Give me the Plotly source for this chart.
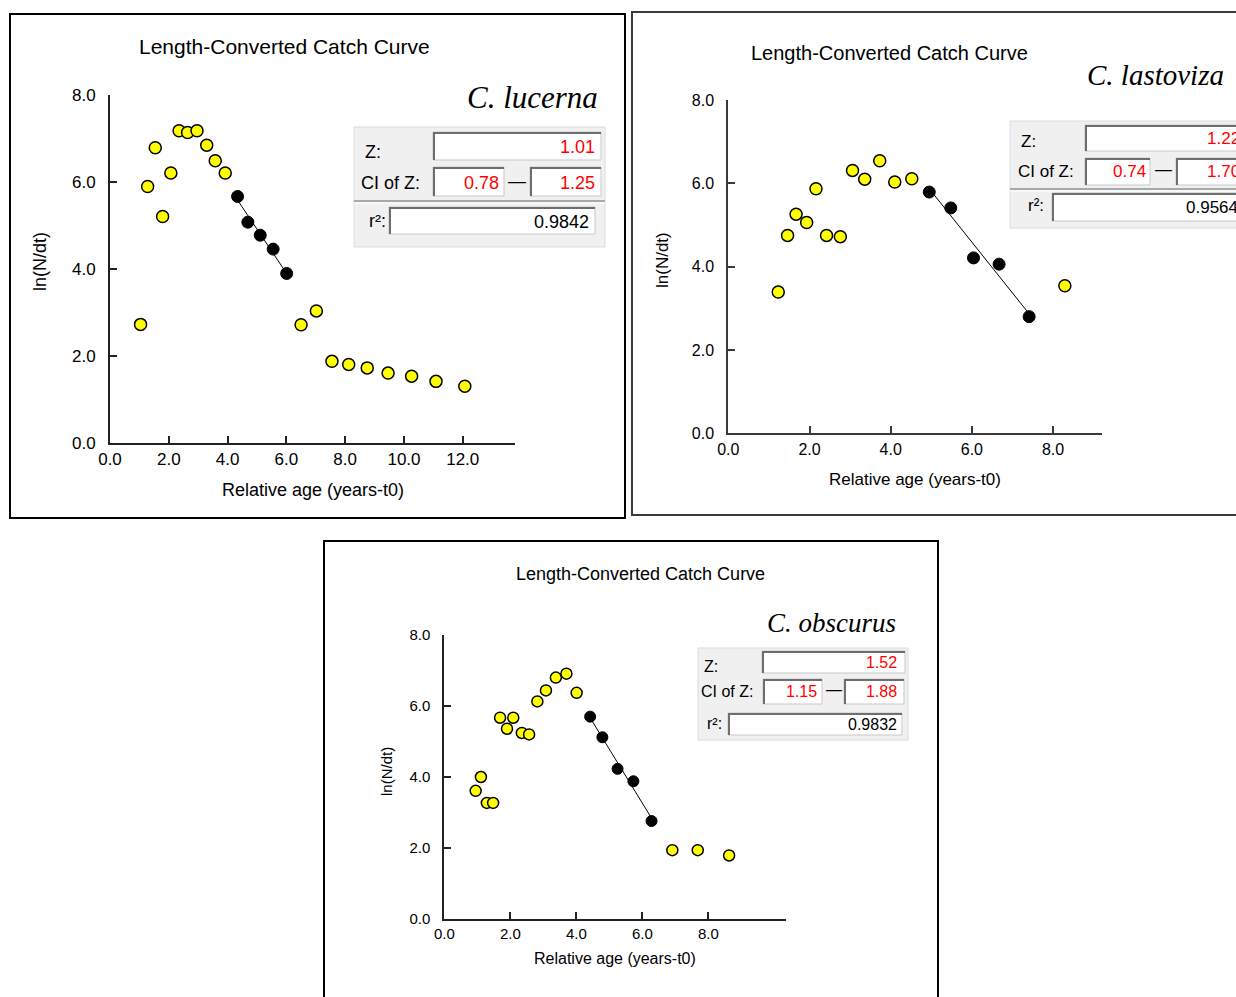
import numpy as np
import plotly.graph_objects as go

W, H = 1236, 997

# ---------------- data ----------------
# C. lucerna
lucerna_age = [1.04, 1.28, 1.54, 1.79, 2.07, 2.35, 2.64, 2.96, 3.29, 3.58, 3.92,
               4.34, 4.69, 5.11, 5.55, 6.01,
               6.50, 7.02, 7.55, 8.12, 8.75, 9.46, 10.26, 11.09, 12.07]
lucerna_lnN = [2.72, 5.89, 6.78, 5.20, 6.20, 7.17, 7.13, 7.17, 6.84, 6.48, 6.20,
               5.66, 5.07, 4.77, 4.45, 3.89,
               2.71, 3.03, 1.87, 1.80, 1.72, 1.60, 1.53, 1.41, 1.30]
lucerna_used = [0] * 11 + [1] * 5 + [0] * 9
lucerna_Z, lucerna_ci_lo, lucerna_ci_hi, lucerna_r2 = 1.01, 0.78, 1.25, 0.9842

# C. lastoviza
lastoviza_age = [1.23, 1.46, 1.67, 1.93, 2.16, 2.42, 2.76, 3.06, 3.36, 3.73, 4.10, 4.52,
                 4.95, 5.48, 6.04, 6.67, 7.41,
                 8.29]
lastoviza_lnN = [3.39, 4.75, 5.26, 5.06, 5.87, 4.75, 4.72, 6.31, 6.10, 6.54, 6.03, 6.11,
                 5.79, 5.41, 4.21, 4.06, 2.80,
                 3.54]
lastoviza_used = [0] * 12 + [1] * 5 + [0]
lastoviza_Z, lastoviza_ci_lo, lastoviza_ci_hi, lastoviza_r2 = 1.22, 0.74, 1.70, 0.9564

# C. obscurus
obscurus_age = [0.95, 1.11, 1.29, 1.48, 1.69, 1.90, 2.09, 2.35, 2.57, 2.82, 3.08, 3.38, 3.70, 4.01,
                4.42, 4.79, 5.25, 5.73, 6.28,
                6.91, 7.68, 8.63]
obscurus_lnN = [3.61, 4.00, 3.27, 3.27, 5.67, 5.36, 5.67, 5.24, 5.20, 6.13, 6.44, 6.80, 6.91, 6.37,
                5.70, 5.12, 4.23, 3.88, 2.76,
                1.94, 1.94, 1.79]
obscurus_used = [0] * 14 + [1] * 5 + [0] * 3
obscurus_Z, obscurus_ci_lo, obscurus_ci_hi, obscurus_r2 = 1.52, 1.15, 1.88, 0.9832

y_ticks = [0, 2, 4, 6, 8]

# ---------------- layout helpers (pixel -> paper) ----------------
def px(x):
    return x / W


def py(y):
    return 1 - y / H


fig = go.Figure()
shapes = []
annotations = []

SANS = "Liberation Sans, Arial, sans-serif"
SERIF = "Liberation Serif, Times New Roman, serif"


def text(x, y, s, size, color="#000000", xanchor="center", yanchor="middle",
         family=SANS, angle=0):
    annotations.append(dict(
        x=px(x), y=py(y), xref="paper", yref="paper", text=s, showarrow=False,
        xanchor=xanchor, yanchor=yanchor, textangle=angle,
        font=dict(family=family, size=size, color=color)))


def rect(x0, y0, x1, y1, fill=None, line=None, width=1):
    shapes.append(dict(
        type="rect", xref="paper", yref="paper",
        x0=px(x0), x1=px(x1), y0=py(y1), y1=py(y0),
        fillcolor=fill if fill else "rgba(0,0,0,0)",
        line=dict(color=line if line else "rgba(0,0,0,0)", width=width), layer="above"))


def hline(x0, x1, y, color, width=1):
    shapes.append(dict(type="line", xref="paper", yref="paper",
                       x0=px(x0), x1=px(x1), y0=py(y), y1=py(y),
                       line=dict(color=color, width=width), layer="above"))


def vline(x, y0, y1, color, width=1):
    shapes.append(dict(type="line", xref="paper", yref="paper",
                       x0=px(x), x1=px(x), y0=py(y0), y1=py(y1),
                       line=dict(color=color, width=width), layer="above"))


def field(x0, y0, x1, y1):
    # sunken white edit box
    rect(x0, y0, x1, y1, fill="#ffffff", line="#c8c8c8", width=1)
    hline(x0, x1, y0 + 1, "#6e6e6e", 2)
    vline(x0 + 1, y0, y1, "#6e6e6e", 2)


def panel(n, age, lnN, used, Z, ci_lo, ci_hi, r2, species, g):
    xa = "x" if n == 1 else f"x{n}"
    ya = "y" if n == 1 else f"y{n}"
    age = np.asarray(age)
    lnN = np.asarray(lnN)
    used = np.asarray(used, dtype=bool)

    # frame of the panel
    rect(*g["border"], line=g["border_color"], width=2)

    # catch-curve points
    fig.add_trace(go.Scatter(
        x=age[~used], y=lnN[~used], mode="markers", xaxis=xa, yaxis=ya,
        marker=dict(size=g["ms"], color="#ffff00", line=dict(color="#000000", width=1.5)),
        cliponaxis=False, showlegend=False, hoverinfo="skip"))
    # regression line: slope -Z through the centroid of the selected points
    xs, ys = age[used], lnN[used]
    xl = np.array([xs.min(), xs.max()])
    yl = ys.mean() - Z * (xl - xs.mean())
    fig.add_trace(go.Scatter(
        x=xl, y=yl, mode="lines", xaxis=xa, yaxis=ya,
        line=dict(color="#000000", width=1), showlegend=False, hoverinfo="skip"))
    fig.add_trace(go.Scatter(
        x=xs, y=ys, mode="markers", xaxis=xa, yaxis=ya,
        marker=dict(size=g["ms"], color="#000000", line=dict(color="#000000", width=1)),
        cliponaxis=False, showlegend=False, hoverinfo="skip"))

    x0, y0, x1, y1 = g["plot"]
    ac = g["axis_color"]
    common = dict(showline=True, linecolor=ac, linewidth=2, ticks="inside",
                  tickcolor=ac, tickwidth=2, ticklen=7, showgrid=False, zeroline=False,
                  tickformat=".1f", fixedrange=True, automargin=False,
                  tickfont=dict(family=SANS, size=g["tick"], color="#000000"))
    fig.layout[("xaxis" if n == 1 else f"xaxis{n}")] = dict(
        domain=[px(x0), px(x1)], range=[0, g["xmax"]], tickvals=g["xticks"],
        anchor=ya, ticklabelstandoff=g["xstand"], **common)
    fig.layout[("yaxis" if n == 1 else f"yaxis{n}")] = dict(
        domain=[py(y1), py(y0)], range=[0, 8], tickvals=y_ticks,
        anchor=xa, ticklabelstandoff=g["ystand"], **common)

    # titles
    tx, ty, ts = g["title"]
    text(tx, ty, "Length-Converted Catch Curve", ts)
    ax_, ay_, as_ = g["xtitle"]
    text(ax_, ay_, "Relative age (years-t0)", as_)
    bx, by, bs = g["ytitle"]
    text(bx, by, "ln(N/dt)", bs, angle=-90)
    sx, sy, sanchor, ss = g["species"]
    text(sx, sy, f"<i>{species}</i>", ss, xanchor=sanchor, family=SERIF)

    # statistics box
    b = g["box"]
    fs = b["font"]
    rect(*b["area"], fill="#f0f0f0", line="#dcdcdc", width=1)
    if b.get("sep") is not None:
        hline(b["area"][0], b["area"][2], b["sep"], "#a8a8a8", 2)
        hline(b["area"][0], b["area"][2], b["sep"] + 2, "#ffffff", 1)
    for key in ("z", "ci1", "ci2", "r2"):
        field(*b[key])
    lx, ly = b["zlab"]
    text(lx, ly, "Z:", fs)
    lx, ly = b["cilab"]
    text(lx, ly, "CI of Z:", fs)
    lx, ly = b["r2lab"]
    text(lx, ly, "r²:", fs)
    lx, ly = b["dash"]
    text(lx, ly, "—", fs)
    vx, vy = b["zval"]
    text(vx, vy, f"{Z:.2f}", fs, color="#ff0000", xanchor="right")
    vx, vy = b["ci1val"]
    text(vx, vy, f"{ci_lo:.2f}", fs, color="#ff0000", xanchor="right")
    vx, vy = b["ci2val"]
    text(vx, vy, f"{ci_hi:.2f}", fs, color="#ff0000", xanchor="right")
    vx, vy = b["r2val"]
    text(vx, vy, f"{r2:.4f}", fs, xanchor="right")


panel(1, lucerna_age, lucerna_lnN, lucerna_used,
      lucerna_Z, lucerna_ci_lo, lucerna_ci_hi, lucerna_r2, "C. lucerna",
      dict(border=(10, 14, 625, 518), border_color="#000000", axis_color="#222222",
           plot=(110, 94.7, 514.5, 442.7), xmax=13.76, xticks=[0, 2, 4, 6, 8, 10, 12],
           ms=12, tick=17, xstand=0, ystand=9,
           title=(284, 47, 21), xtitle=(313, 490, 18), ytitle=(40, 262, 18),
           species=(600, 97, "right", 31),
           box=dict(area=(354, 127, 605, 247), sep=201, font=18,
                    z=(433, 132, 601, 160), ci1=(433, 167, 504, 196),
                    ci2=(530, 167, 601, 196), r2=(389, 207, 595, 234),
                    zlab=(373, 152), cilab=(390, 183), r2lab=(377, 221), dash=(517, 181),
                    zval=(597, 147), ci1val=(501, 183), ci2val=(597, 183), r2val=(591, 222))))

panel(2, lastoviza_age, lastoviza_lnN, lastoviza_used,
      lastoviza_Z, lastoviza_ci_lo, lastoviza_ci_hi, lastoviza_r2, "C. lastoviza",
      dict(border=(632, 12, 1260, 515), border_color="#3a3a3a", axis_color="#3a3a3a",
           plot=(728.3, 100, 1101.8, 433.3), xmax=9.2, xticks=[0, 2, 4, 6, 8],
           ms=12, tick=16, xstand=0, ystand=9,
           title=(889, 53, 20), xtitle=(915, 479, 17), ytitle=(662, 260, 17),
           species=(1085, 75, "left", 29),
           box=dict(area=(1010, 121, 1260, 228), sep=189, font=17,
                    z=(1085, 125, 1260, 151), ci1=(1085, 158, 1150, 185),
                    ci2=(1176, 158, 1260, 185), r2=(1052, 193, 1260, 221),
                    zlab=(1028, 142), cilab=(1046, 172), r2lab=(1036, 206), dash=(1163, 170),
                    zval=(1242, 139), ci1val=(1148, 172), ci2val=(1242, 172), r2val=(1240, 207))))

panel(3, obscurus_age, obscurus_lnN, obscurus_used,
      obscurus_Z, obscurus_ci_lo, obscurus_ci_hi, obscurus_r2, "C. obscurus",
      dict(border=(324, 541, 938, 1010), border_color="#000000", axis_color="#222222",
           plot=(444.3, 635, 786.2, 919), xmax=10.36, xticks=[0, 2, 4, 6, 8],
           ms=11, tick=15, xstand=0, ystand=9,
           title=(640, 574, 18), xtitle=(615, 958, 16), ytitle=(386, 772, 15),
           species=(898, 623, "right", 27),
           box=dict(area=(698, 648, 908, 740), sep=None, font=16,
                    z=(762, 651, 905, 673), ci1=(763, 679, 822, 704),
                    ci2=(844, 679, 904, 704), r2=(728, 713, 902, 735),
                    zlab=(711, 666), cilab=(727, 691), r2lab=(714, 723), dash=(834, 689),
                    zval=(899, 662), ci1val=(819, 691), ci2val=(899, 691), r2val=(899, 724))))

fig.update_layout(
    width=W, height=H, margin=dict(l=0, r=0, t=0, b=0, pad=0), autosize=False,
    paper_bgcolor="#ffffff", plot_bgcolor="rgba(0,0,0,0)",
    shapes=shapes, annotations=annotations, showlegend=False,
)

fig.write_html("out.html", config={"displayModeBar": False})
